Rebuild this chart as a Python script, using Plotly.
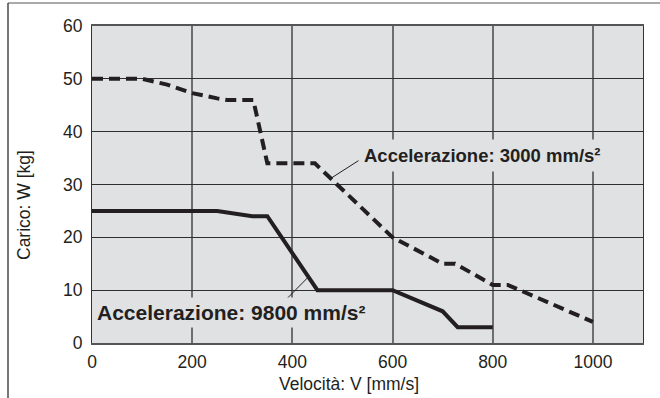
import plotly.graph_objects as go

# Load vs. speed curves for two acceleration settings
speed_3000 = [0, 100, 150, 200, 250, 270, 322, 350, 445, 600, 700, 725, 800, 830, 1000]
load_3000 = [50, 50, 48.9, 47.3, 46.3, 46, 46, 34, 34, 20, 15, 15, 11, 11, 4]

speed_9800 = [0, 250, 320, 350, 450, 600, 700, 730, 800]
load_9800 = [25, 25, 24, 24, 10, 10, 6, 3, 3]

x_ticks = [0, 200, 400, 600, 800, 1000]
y_ticks = [0, 10, 20, 30, 40, 50, 60]

label_3000 = "Accelerazione: 3000 mm/s²"
label_9800 = "Accelerazione: 9800 mm/s²"
x_title = "Velocità: V [mm/s]"
y_title = "Carico: W [kg]"

W, H = 660, 398
ML, MR, MT, MB = 92, 17, 26, 55
PW, PH = W - ML - MR, H - MT - MB

INK = "#231f20"
PLOT_BG = "#e0e1e3"
FONT = "Liberation Sans, Arial, sans-serif"


def px_to_paper_x(px):
    return (px - ML) / PW


def px_to_paper_y(py):
    return (H - MB - py) / PH


fig = go.Figure()

fig.add_trace(go.Scatter(
    x=speed_3000, y=load_3000, mode="lines",
    line=dict(color=INK, width=4, dash="11px,6px"),
    showlegend=False, hoverinfo="skip",
))
fig.add_trace(go.Scatter(
    x=speed_9800, y=load_9800, mode="lines",
    line=dict(color=INK, width=4),
    showlegend=False, hoverinfo="skip",
))

# leader lines from labels to curves
fig.add_shape(type="line", xref="x", yref="y", x0=479, y0=31.3, x1=540, y1=35.0,
              line=dict(color=INK, width=1))
fig.add_shape(type="line", xref="x", yref="y", x0=382, y0=7.7, x1=432, y1=12.5,
              line=dict(color=INK, width=1))

# outer frame (top and left edges)
fig.add_shape(type="line", xref="paper", yref="paper",
              x0=px_to_paper_x(8), y0=px_to_paper_y(3),
              x1=px_to_paper_x(W + 2), y1=px_to_paper_y(3),
              line=dict(color="#8c8c8c", width=1.5), layer="above")
fig.add_shape(type="line", xref="paper", yref="paper",
              x0=px_to_paper_x(8), y0=px_to_paper_y(3),
              x1=px_to_paper_x(8), y1=px_to_paper_y(H + 2),
              line=dict(color="#4a4a4a", width=1.5), layer="above")

fig.add_annotation(
    x=532, y=35.5, xref="x", yref="y", xanchor="left", yanchor="middle",
    text="<b>" + label_3000 + "</b>", showarrow=False,
    font=dict(family=FONT, size=18.5, color=INK),
    bgcolor=PLOT_BG, borderpad=5,
)
fig.add_annotation(
    x=2, y=5.8, xref="x", yref="y", xanchor="left", yanchor="middle",
    text="<b>" + label_9800 + "</b>", showarrow=False,
    font=dict(family=FONT, size=21, color=INK),
    bgcolor=PLOT_BG, borderpad=3,
)

# axis titles
fig.add_annotation(
    x=px_to_paper_x(349), y=px_to_paper_y(384), xref="paper", yref="paper",
    xanchor="center", yanchor="middle", text=x_title, showarrow=False,
    font=dict(family=FONT, size=17.5, color=INK),
)
fig.add_annotation(
    x=px_to_paper_x(24), y=px_to_paper_y(205), xref="paper", yref="paper",
    xanchor="center", yanchor="middle", text=y_title, showarrow=False,
    textangle=-90, font=dict(family=FONT, size=17.5, color=INK),
)

fig.update_layout(
    width=W, height=H,
    margin=dict(l=ML, r=MR, t=MT, b=MB, pad=0),
    paper_bgcolor="white", plot_bgcolor=PLOT_BG,
    font=dict(family=FONT, size=17.5, color=INK),
    showlegend=False,
)
fig.update_xaxes(
    range=[0, 1100], tickvals=x_ticks, ticktext=[str(v) for v in x_ticks],
    showgrid=True, gridcolor="#6e6e6e", gridwidth=1.6,
    showline=True, linecolor="#555555", linewidth=1.5, mirror=True,
    ticks="", ticklabelstandoff=2, zeroline=False,
    tickfont=dict(family=FONT, size=17.5, color=INK),
)
fig.update_yaxes(
    range=[0, 60], tickvals=y_ticks, ticktext=[str(v) for v in y_ticks],
    showgrid=True, gridcolor="#2e2e2e", gridwidth=1.2,
    showline=True, linecolor="#333333", linewidth=1.2, mirror=True,
    ticks="", ticklabelstandoff=5, zeroline=False,
    tickfont=dict(family=FONT, size=17.5, color=INK),
)

fig.write_html("out.html")
